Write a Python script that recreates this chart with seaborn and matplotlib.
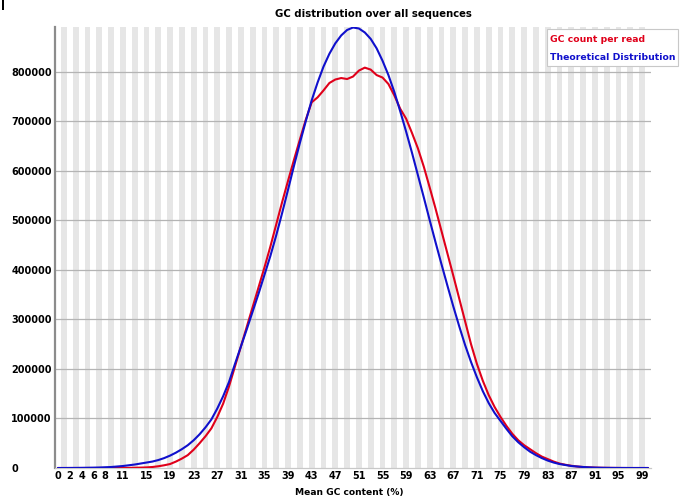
import numpy as np
import pandas as pd
import matplotlib
matplotlib.use("Agg")
import matplotlib.pyplot as plt
import seaborn as sns
from matplotlib.patches import Rectangle

# ---- data ----
gc_percent = list(range(0, 101))

gc_count_per_read = [
    0, 0, 0, 0, 0, 0, 0, 0, 0, 0,
    100, 200, 300, 500, 800, 1200, 2000, 3500, 5500, 8000,
    13000, 19000, 26000, 37000, 50000, 64000, 80000, 103000, 130000, 165000,
    205000, 245000, 285000, 325000, 365000, 405000, 447000, 492000, 537000, 580000,
    622000, 663000, 703000, 738000, 748000, 762000, 777000, 784000, 787000, 785000,
    790000, 802000, 808000, 804000, 793000, 788000, 775000, 752000, 725000, 705000,
    676000, 645000, 608000, 566000, 523000, 478000, 433000, 388000, 342000, 296000,
    250000, 210000, 176000, 147000, 123000, 103000, 85000, 69000, 56000, 46000,
    38000, 30000, 23000, 18000, 13000, 9000, 6500, 4500, 3000, 2000,
    1300, 800, 500, 300, 200, 100, 0, 0, 0, 0,
    0,
]

theoretical = [
    0, 0, 100, 200, 300, 500, 700, 1000, 1500, 2000,
    3000, 4000, 5500, 7000, 9000, 11000, 13000, 16000, 20000, 25000,
    31000, 38000, 46000, 56000, 68000, 82000, 98000, 120000, 145000, 174000,
    210000, 245000, 280000, 316000, 352000, 390000, 428000, 470000, 515000, 562000,
    610000, 656000, 700000, 742000, 778000, 810000, 836000, 857000, 873000, 884000,
    889000, 887000, 879000, 866000, 847000, 822000, 793000, 759000, 720000, 679000,
    636000, 591000, 546000, 500000, 455000, 411000, 368000, 326000, 286000, 248000,
    214000, 183000, 155000, 131000, 111000, 95000, 79000, 64000, 52000, 42000,
    33000, 26000, 20000, 15000, 11000, 8000, 6000, 4000, 3000, 2000,
    1300, 800, 500, 300, 200, 100, 100, 0, 0, 0,
    0,
]

xtick_values = [0, 2, 4, 6, 8] + list(range(11, 100, 4))
ytick_values = list(range(0, 800001, 100000))

title_text = "GC distribution over all sequences"
xlabel_text = "Mean GC content (%)"
series_names = ["GC count per read", "Theoretical Distribution"]
series_colors = ["#E0001A", "#1010CC"]

# ---- build long table ----
df = pd.DataFrame({
    "gc": gc_percent * 2,
    "count": gc_count_per_read + theoretical,
    "series": [series_names[0]] * len(gc_percent) + [series_names[1]] * len(gc_percent),
})

sns.set_style("white")
plt.rcParams["font.family"] = ["DejaVu Sans"]

W, H = 694, 504
fig = plt.figure(figsize=(W / 100, H / 100), dpi=100)
ax_left, ax_right, ax_top, ax_bottom = 55.0, 651.0, 27.0, 468.0
ax = fig.add_axes([ax_left / W, 1 - ax_bottom / H, (ax_right - ax_left) / W, (ax_bottom - ax_top) / H])

# alternating category bands
for i in gc_percent:
    if i % 2 == 1:
        ax.axvspan(i - 0.5, i + 0.5, color="#E6E6E6", lw=0, zorder=0)

# horizontal grid lines
for v in ytick_values[1:]:
    ax.axhline(v, color="#B4B4B4", lw=0.9, zorder=1)

sns.lineplot(data=df, x="gc", y="count", hue="series", palette=series_colors,
             hue_order=series_names, linewidth=1.5, ax=ax, legend=False, zorder=3)

ax.set_xlim(-0.5, 100.5)
ax.set_ylim(0, 890000)
ax.set_xticks(xtick_values)
ax.set_xticklabels([str(v) for v in xtick_values])
ax.set_yticks(ytick_values)
ax.set_yticklabels([str(v) for v in ytick_values])
ax.tick_params(axis="x", length=0, pad=2, labelsize=7, colors="black")
ax.tick_params(axis="y", length=0, pad=31.5, labelsize=7, colors="black")
for lab in ax.get_yticklabels():
    lab.set_horizontalalignment("left")
    lab.set_fontweight("bold")
for lab in ax.get_xticklabels():
    lab.set_fontweight("bold")
ax.set_xlabel("")
ax.set_ylabel("")

for s in ["top", "right"]:
    ax.spines[s].set_visible(False)
ax.spines["left"].set_color("#8C8C8C")
ax.spines["left"].set_linewidth(1.6)
ax.spines["bottom"].set_color("#C8C8C8")
ax.spines["bottom"].set_linewidth(0.9)

fig.text(373 / W, 1 - 14 / H, title_text, ha="center", va="center", fontsize=7.3,
         fontweight="bold", color="black")
fig.text(349 / W, 1 - 492 / H, xlabel_text, ha="center", va="center", fontsize=6.6,
         fontweight="bold", color="black")

# legend box
lg_x0, lg_y0, lg_x1, lg_y1 = 547, 29, 678, 66
fig.add_artist(Rectangle((lg_x0 / W, 1 - lg_y1 / H), (lg_x1 - lg_x0) / W, (lg_y1 - lg_y0) / H,
                         transform=fig.transFigure, facecolor="white", edgecolor="#C8C8C8", lw=0.8,
                         zorder=5))
fig.text(550 / W, 1 - 40 / H, series_names[0], ha="left", va="center", fontsize=6.7,
         fontweight="bold", color=series_colors[0], zorder=6)
fig.text(550 / W, 1 - 57 / H, series_names[1], ha="left", va="center", fontsize=6.7,
         fontweight="bold", color=series_colors[1], zorder=6)

# small dark mark at the top-left corner of the reference image
fig.add_artist(Rectangle((2 / W, 1 - 10 / H), 2.5 / W, 10 / H, transform=fig.transFigure,
                         facecolor="black", edgecolor="none"))

fig.savefig("out.png", dpi=100)
